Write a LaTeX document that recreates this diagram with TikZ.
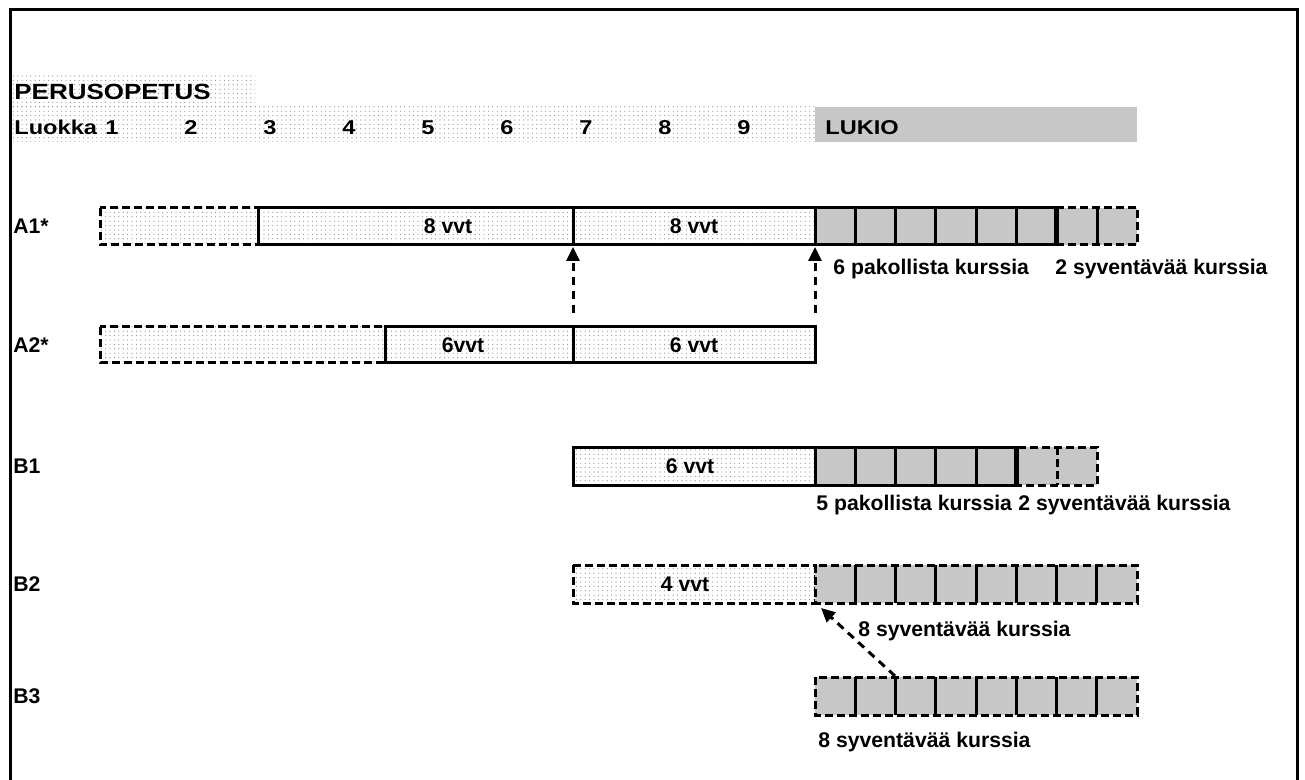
\documentclass[tikz,border=0pt]{standalone}
\usepackage{fontspec}
\setmainfont{Liberation Sans}
\newfontfamily\headfont[FakeStretch=1.18]{Liberation Sans}
\usetikzlibrary{arrows.meta, patterns.meta}

\tikzset{
  lbl/.style={font=\bfseries\fontsize{10.6}{12}\selectfont, inner sep=0pt},
  head/.style={font=\headfont\bfseries\fontsize{10}{12}\selectfont, inner sep=0pt},
  headbig/.style={font=\headfont\bfseries\fontsize{11}{13}\selectfont, inner sep=0pt},
  dotfill/.style={pattern={Dots[distance=2.2pt, radius=0.3pt]}, pattern color=black!45},
  lukiofill/.style={fill=black!22},
  solidline/.style={line width=1.5pt},
  dashline/.style={line width=1.5pt, dash pattern=on 4pt off 2pt},
  jump/.style={line width=1.5pt, dash pattern=on 4pt off 3pt, -{Triangle[length=7pt,width=6.5pt]}},
}

\begin{document}
\begin{tikzpicture}[x=0.5pt, y=-0.5pt]
    \useasboundingbox (0,0) rectangle (1305,780);

    % Frame
    \draw[line width=1.5pt] (10,780) -- (10,10) -- (1297,10) -- (1297,780);

    % Header rows
    \fill[dotfill] (12,75) rectangle (255,107);
    \fill[dotfill] (12,107) rectangle (815,142);
    \fill[lukiofill] (815,107) rectangle (1137,142);
    \node[headbig, anchor=base west] (perus) at (14,100) {PERUSOPETUS};
    \node[head, anchor=base west] (luokka) at (14,135) {Luokka};
    \foreach \g in {1,...,9}
        \node[head, anchor=base] (g\g) at ({112+79*(\g-1)},135) {\g};
    \node[head, anchor=base west] (lukio) at (825,135) {LUKIO};

    % Row labels
    \node[lbl, anchor=west] (a1) at (13,226) {A1*};
    \node[lbl, anchor=west] (a2) at (13,345) {A2*};
    \node[lbl, anchor=west] (b1) at (13,466) {B1};
    \node[lbl, anchor=west] (b2) at (13,584) {B2};
    \node[lbl, anchor=west] (b3) at (13,696) {B3};

    % A1*
    \draw[dashline, dotfill] (100,208) rectangle (258,245);
    \draw[solidline, dotfill] (258,208) rectangle (573,245);
    \draw[solidline, dotfill] (573,208) rectangle (815,245);
    \foreach \i in {0,...,5}
        \draw[solidline, lukiofill] ({815+40.25*\i},208) rectangle +(40.25,37);
    \draw[dashline, lukiofill] (1056.5,208) rectangle (1137,245);
    \draw[solidline] (1097,208) -- (1097,245);
    \draw[line width=2.5pt] (1056.5,208) -- (1056.5,245);
    \node[lbl] (a1vvt1) at (448,226) {8 vvt};
    \node[lbl] (a1vvt2) at (694,226) {8 vvt};
    \node[lbl, anchor=base west] (a1pak) at (833,275) {6 pakollista kurssia};
    \node[lbl, anchor=base west] (a1syv) at (1055,275) {2 syventävää kurssia};

    % A2*
    \draw[dashline, dotfill] (100,327) rectangle (385,363);
    \draw[solidline, dotfill] (385,327) rectangle (573,363);
    \draw[solidline, dotfill] (573,327) rectangle (815,363);
    \node[lbl] (a2vvt1) at (463,345) {6vvt};
    \node[lbl] (a2vvt2) at (694,345) {6 vvt};

    % A2* continues into A1*
    \coordinate (a2g7) at (573,313);
    \coordinate (a1g7) at (573,247);
    \coordinate (a2lu) at (815,313);
    \coordinate (a1lu) at (815,247);
    \draw[jump] (a2g7) -- (a1g7);
    \draw[jump] (a2lu) -- (a1lu);

    % B1
    \draw[solidline, dotfill] (573,447) rectangle (815,485);
    \foreach \i in {0,...,4}
        \draw[solidline, lukiofill] ({815+40.25*\i},447) rectangle +(40.25,38);
    \draw[dashline, lukiofill] (1016,447) rectangle (1097,485);
    \draw[dashline] (1057,447) -- (1057,485);
    \draw[line width=2.5pt] (1016,447) -- (1016,485);
    \node[lbl] (b1vvt) at (690,466) {6 vvt};
    \node[lbl, anchor=base west] (b1pak) at (816,510) {5 pakollista kurssia};
    \node[lbl, anchor=base west] (b1syv) at (1018,510) {2 syventävää kurssia};

    % B2
    \draw[dashline, dotfill] (573,565) rectangle (815,603);
    \draw[dashline, lukiofill] (815,565) rectangle (1137,603);
    \foreach \i in {1,...,7}
        \draw[solidline] ({815+40.25*\i},565) -- +(0,38);
    \node[lbl] (b2vvt) at (685,584) {4 vvt};
    \node[lbl, anchor=base west] (b2syv) at (858,636) {8 syventävää kurssia};

    % B3
    \draw[dashline, lukiofill] (815,677) rectangle (1137,715);
    \foreach \i in {1,...,7}
        \draw[solidline] ({815+40.25*\i},677) -- +(0,38);
    \node[lbl, anchor=base west] (b3syv) at (818,747) {8 syventävää kurssia};

    % B3 continues into B2
    \coordinate (b3tail) at (895,676);
    \coordinate (b2tip) at (821,608);
    \draw[jump] (b3tail) -- (b2tip);
\end{tikzpicture}
\end{document}
